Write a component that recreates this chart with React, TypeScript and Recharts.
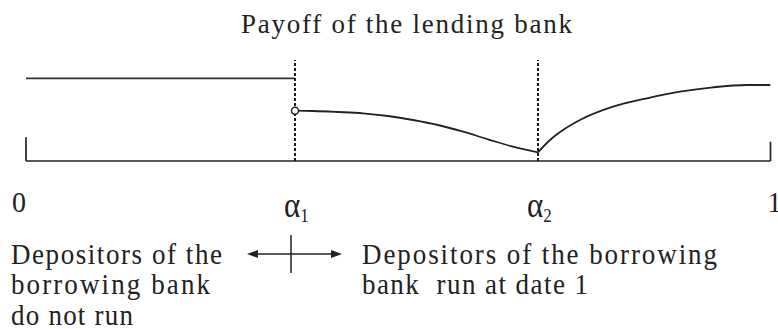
import React from "react";
import { ComposedChart, Line, XAxis, YAxis, ReferenceLine, ReferenceDot } from "recharts";

const ALPHA1 = 0.3613;
const ALPHA2 = 0.6877;

const noRunX = [0, ALPHA1];
const noRunY = [82.7, 82.7];
const fallX = [0.3613, 0.3855, 0.419, 0.4527, 0.4862, 0.5198, 0.5534, 0.587, 0.6205, 0.6541, 0.6877];
const fallY = [50.3, 50, 49, 47.7, 45, 41, 36, 29.3, 21.7, 14.3, 8.7];
const riseX = [0.6877, 0.7038, 0.7213, 0.7441, 0.7884, 0.8341, 0.8784, 0.9228, 0.9684, 1];
const riseY = [8.7, 21, 31, 41, 54.3, 62.7, 69.3, 73.7, 76, 76];

const tickValues = [0, ALPHA1, ALPHA2, 1];
const tickLabels = ["0", "α", "α", "1"];
const tickSubs = ["", "1", "2", ""];

const title = "Payoff of the lending bank";
const leftNote = ["Depositors of the", "borrowing bank", "do not run"];
const rightNote = ["Depositors of the borrowing", "bank  run at date 1"];

const noRunData = noRunX.map((x, i) => ({ x, y: noRunY[i] }));
const fallData = fallX.map((x, i) => ({ x, y: fallY[i] }));
const riseData = riseX.map((x, i) => ({ x, y: riseY[i] }));

const FONT = "Liberation Serif";
const TXT: React.CSSProperties = { fontFamily: FONT, whiteSpace: "pre" };

const AxisTick = (props: any) => {
  const { x, index } = props;
  const baseY = 212;
  const label = tickLabels[index];
  const sub = tickSubs[index];
  if (!sub) {
    const anchor = index === 0 ? "end" : "start";
    const dx = index === 0 ? 0 : -3;
    return (
      <text transform={`translate(${x + dx},${baseY}) scale(1,1.08)`} x={0} y={0} textAnchor={anchor} style={TXT} fontSize={28} fill="#222">
        {label}
      </text>
    );
  }
  return (
    <text transform={`translate(${x - 11},${baseY + 5}) scale(1,1.15)`} x={0} y={0} textAnchor="start" style={TXT} fontSize={31} fill="#222">
      <tspan>{label}</tspan>
      <tspan fontSize={17} dy={4}>{sub}</tspan>
    </text>
  );
};

const Note = ({ x, y, w, children }: { x: number; y: number; w: number; children: string }) => (
  <text
    transform={`translate(${x},${y}) scale(1,1.09)`}
    x={0}
    y={0}
    style={TXT}
    fontSize={27}
    fill="#222"
    textLength={w}
    lengthAdjust="spacing"
  >
    {children}
  </text>
);

export default function App() {
  return (
    <div style={{ position: "absolute", left: 0, top: 0, width: 778, height: 329, background: "#fff" }}>
      <ComposedChart
        width={778}
        height={329}
        margin={{ top: 51, right: 7.5, bottom: 108, left: 26 }}
      >
        <XAxis
          type="number"
          dataKey="x"
          domain={[0, 1]}
          allowDataOverflow
          ticks={tickValues}
          interval={0}
          axisLine={false}
          tickLine={false}
          height={60}
          tick={<AxisTick />}
        />
        <YAxis type="number" dataKey="y" domain={[0, 110]} allowDataOverflow hide />
        <ReferenceLine segment={[{ x: 0, y: 0 }, { x: 1, y: 0 }]} stroke="#222" strokeWidth={1.7} />
        <ReferenceLine segment={[{ x: 0, y: 0 }, { x: 0, y: 23.7 }]} stroke="#222" strokeWidth={1.7} />
        <ReferenceLine segment={[{ x: 1, y: 0 }, { x: 1, y: 19.3 }]} stroke="#222" strokeWidth={1.7} />
        <ReferenceLine segment={[{ x: ALPHA1, y: 0 }, { x: ALPHA1, y: 101 }]} stroke="#111" strokeWidth={1.9} strokeDasharray="3 2" />
        <ReferenceLine segment={[{ x: ALPHA2, y: 0 }, { x: ALPHA2, y: 101 }]} stroke="#111" strokeWidth={1.9} strokeDasharray="3 2" />
        <Line data={noRunData} dataKey="y" type="linear" stroke="#333" strokeWidth={1.8} dot={false} isAnimationActive={false} />
        <Line data={fallData} dataKey="y" type="monotone" stroke="#222" strokeWidth={1.8} dot={false} isAnimationActive={false} />
        <Line data={riseData} dataKey="y" type="monotone" stroke="#222" strokeWidth={1.8} dot={false} isAnimationActive={false} />
        <ReferenceDot x={ALPHA1} y={50.3} r={3.5} fill="#fff" stroke="#222" strokeWidth={1.5} />
      </ComposedChart>
      <svg
        width={778}
        height={329}
        style={{ position: "absolute", left: 0, top: 0, pointerEvents: "none" }}
      >
        <text transform="translate(241,33) scale(1,1.05)" x={0} y={0} style={TXT} fontSize={27} fill="#222" textLength={331} lengthAdjust="spacing">
          {title}
        </text>
        <Note x={11} y={264} w={211}>{leftNote[0]}</Note>
        <Note x={11} y={294} w={199}>{leftNote[1]}</Note>
        <Note x={11} y={325} w={122}>{leftNote[2]}</Note>
        <Note x={362} y={264} w={355}>{rightNote[0]}</Note>
        <Note x={362} y={294} w={226}>{rightNote[1]}</Note>
        <line x1={255} y1={254} x2={334} y2={254} stroke="#222" strokeWidth={1.5} />
        <line x1={291} y1={235} x2={291} y2={273} stroke="#222" strokeWidth={1.5} />
        <polygon points="247,254 258,250 258,258" fill="#222" />
        <polygon points="342,254 331,250 331,258" fill="#222" />
      </svg>
    </div>
  );
}
